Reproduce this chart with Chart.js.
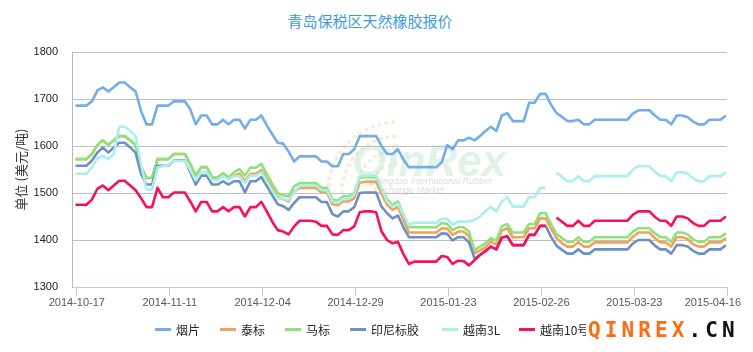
<!DOCTYPE html>
<html>
<head>
<meta charset="utf-8">
<script src="https://cdn.jsdelivr.net/npm/chart.js@4"></script>
<style>
  body { margin: 0; background: #fff; }
  #wrap { position: relative; width: 753px; height: 352px; overflow: hidden; }
  #wrap canvas { position: absolute; left: 0; top: 0; z-index: 2; }
  .title { position: absolute; left: 0; width: 740px; top: 10px; text-align: center;
           font: 15px "Noto Sans CJK SC"; color: #3b9bdc; }
  .wm { position: absolute; z-index: 1; }
  .legend { position: absolute; top: 321px; left: 0; z-index: 3; font: 12px "Noto Sans CJK SC"; color: #262626; }
  .legend span.item { position: absolute; white-space: nowrap; display: flex; align-items: center; }
  .legend i { display: inline-block; width: 16px; height: 3px; margin-right: 5px; }
  .brand { position: absolute; left: 586px; top: 317px; z-index: 4; background: #fff; padding-left: 2px; width: 170px;
           font: bold 21px "DejaVu Sans Mono"; letter-spacing: 4.1px; line-height: 26px; }
</style>
</head>
<body>
<div id="wrap">
  <div class="title">青岛保税区天然橡胶报价</div>
  <svg class="wm" style="left:0;top:0" width="753" height="352">
    <g fill="none" stroke="rgba(250,175,115,0.28)" stroke-linecap="round" stroke-dasharray="0 7" stroke-width="4">
      <path d="M 370 192 A 28 28 0 0 1 398 164" />
      <path d="M 356 192 A 42 42 0 0 1 398 150" />
      <path d="M 342 192 A 56 56 0 0 1 398 136" />
      <path d="M 328 192 A 70 70 0 0 1 398 122" />
    </g>
  </svg>
  <div class="wm" style="left:352px;top:136px;font:italic bold 44px 'Liberation Sans';color:rgba(150,215,170,0.30)">QinRex</div>
  <div class="wm" style="left:374px;top:177px;font:italic 9px 'Liberation Sans';color:rgba(150,150,150,0.35);line-height:9px">Qingdao International Rubber<br>Exchange Market</div>
  <canvas id="c" width="753" height="352"></canvas>
  <div class="legend" id="legend"></div>
  <div class="brand"><span style="color:#ff6a13">QINREX</span><span style="color:#111">.CN</span></div>
</div>
<script>
// tick labels on the x axis
const tickLabels = ['2014-10-17', '2014-11-11', '2014-12-04', '2014-12-29',
                    '2015-01-23', '2015-02-26', '2015-03-23', '2015-04-16'];

const seriesNames = ['烟片', '泰标', '马标', '印尼标胶', '越南3L', '越南10号'];
const seriesColors = ['#74aee8', '#f6a15a', '#8ee27a', '#6f8fc4', '#aaeeee', '#f7105e'];

// 烟片
const yanpian = [1686,1686,1686,1695,1718,1725,1716,1725,1735,1735,
  1725,1716,1674,1646,1646,1686,1686,1686,1695,1695,
  1695,1678,1646,1665,1665,1646,1646,1656,1646,1656,
  1656,1637,1656,1656,1665,1644,1625,1607,1605,1588,
  1567,1578,1578,1578,1578,1567,1567,1557,1557,1583,
  1583,1593,1621,1621,1621,1621,1600,1583,1583,1593,
  1571,1555,1555,1555,1555,1555,1555,1565,1602,1593,
  1612,1612,1618,1612,1621,1632,1641,1632,1665,1670,
  1653,1653,1653,1692,1692,1711,1711,1688,1670,1662,
  1653,1653,1656,1646,1646,1656,1656,1656,1656,1656,
  1656,1656,1669,1676,1676,1676,1665,1656,1656,1646,
  1665,1665,1661,1652,1646,1646,1656,1656,1656,1665];

// 泰标
const taibiao = [1572,1572,1572,1583,1602,1612,1602,1612,1621,1621,
  1612,1602,1555,1532,1532,1572,1572,1572,1583,1583,
  1583,1562,1537,1555,1555,1533,1533,1542,1533,1537,
  1541,1525,1541,1541,1549,1530,1510,1492,1487,1482,
  1503,1511,1511,1511,1511,1501,1501,1476,1474,1482,
  1482,1489,1522,1524,1524,1524,1498,1475,1464,1470,
  1443,1416,1416,1416,1416,1416,1416,1425,1424,1411,
  1418,1418,1408,1372,1378,1385,1396,1391,1420,1425,
  1406,1406,1406,1425,1425,1446,1446,1425,1404,1393,
  1386,1386,1395,1386,1386,1395,1395,1395,1395,1395,
  1395,1395,1407,1416,1416,1416,1404,1395,1395,1386,
  1406,1406,1402,1391,1386,1386,1395,1395,1395,1404];

// 马标
const mabiao = [1572,1572,1572,1583,1602,1612,1602,1612,1621,1621,
  1612,1602,1555,1532,1532,1572,1572,1572,1583,1583,
  1583,1562,1537,1555,1555,1533,1533,1542,1533,1544,
  1551,1537,1554,1554,1562,1540,1520,1500,1495,1493,
  1514,1521,1521,1521,1521,1511,1511,1486,1484,1493,
  1493,1500,1532,1534,1534,1534,1509,1487,1475,1482,
  1454,1427,1427,1427,1427,1427,1427,1436,1434,1421,
  1427,1427,1418,1379,1386,1393,1404,1399,1429,1434,
  1416,1416,1416,1434,1434,1457,1457,1434,1413,1404,
  1396,1396,1406,1396,1396,1406,1406,1406,1406,1406,
  1406,1406,1418,1425,1425,1425,1414,1406,1406,1396,
  1416,1416,1412,1401,1396,1396,1406,1406,1406,1414];

// 印尼标胶
const yinni = [1558,1558,1558,1569,1586,1597,1586,1597,1607,1607,
  1597,1586,1540,1518,1518,1558,1558,1558,1569,1569,
  1569,1545,1518,1537,1537,1518,1518,1525,1518,1525,
  1525,1501,1525,1525,1534,1515,1495,1476,1472,1464,
  1479,1491,1491,1491,1491,1481,1481,1455,1450,1461,
  1461,1470,1500,1501,1501,1501,1471,1457,1446,1452,
  1427,1406,1406,1406,1406,1406,1406,1414,1413,1399,
  1406,1406,1395,1361,1368,1375,1386,1380,1405,1408,
  1389,1389,1389,1411,1411,1430,1430,1407,1388,1379,
  1371,1371,1380,1371,1371,1380,1380,1380,1380,1380,
  1380,1380,1393,1400,1400,1400,1388,1380,1380,1371,
  1389,1389,1386,1377,1371,1371,1380,1380,1380,1389];

// 越南3L
const yuenan3L = [1541,1541,1541,1555,1574,1579,1572,1583,1641,1641,
  1632,1621,1560,1507,1507,1554,1557,1559,1568,1568,
  1568,1549,1527,1544,1544,1527,1527,1536,1529,1536,
  1536,1521,1537,1537,1544,1525,1505,1489,1487,1485,
  1500,1516,1516,1516,1516,1506,1506,1482,1479,1488,
  1488,1497,1536,1537,1537,1537,1509,1482,1471,1477,
  1454,1432,1437,1437,1437,1437,1437,1445,1445,1432,
  1439,1439,1439,1443,1450,1461,1470,1461,1482,1491,
  1471,1471,1471,1491,1491,1511,1511,null,1543,1534,
  1525,1525,1536,1525,1525,1536,1536,1536,1536,1536,
  1536,1536,1550,1557,1557,1557,1545,1536,1536,1525,
  1544,1544,1541,1531,1525,1525,1536,1536,1536,1544];

// 越南10号
const yuenan10 = [1475,1475,1475,1486,1509,1516,1506,1516,1526,1526,
  1516,1506,1489,1470,1470,1511,1491,1491,1501,1501,
  1501,1482,1461,1481,1481,1461,1461,1470,1461,1470,
  1470,1450,1470,1470,1481,1461,1439,1421,1418,1412,
  1429,1441,1441,1441,1439,1430,1430,1412,1411,1421,
  1421,1429,1459,1461,1461,1459,1418,1400,1393,1396,
  1370,1349,1354,1354,1354,1354,1354,1366,1364,1349,
  1356,1355,1346,1357,1368,1377,1386,1380,1405,1408,
  1389,1389,1389,1411,1411,1430,1430,null,1448,1439,
  1430,1430,1441,1430,1430,1441,1441,1441,1441,1441,
  1441,1441,1454,1461,1461,1461,1449,1441,1441,1430,
  1450,1450,1446,1436,1430,1430,1441,1441,1441,1450];

const allSeries = [yanpian, taibiao, mabiao, yinni, yuenan3L, yuenan10];

// legend (html)
const legendLeft = [155, 220, 285, 350, 442, 519];
const legendEl = document.getElementById('legend');
seriesNames.forEach(function (name, i) {
  const it = document.createElement('span');
  it.className = 'item';
  it.style.left = legendLeft[i] + 'px';
  it.innerHTML = '<i style="background:' + seriesColors[i] + '"></i>' + name;
  legendEl.appendChild(it);
});

Chart.defaults.font.family = '"Liberation Sans", "Noto Sans CJK SC"';

// x labels drawn here so the last one can be pulled inside the canvas, like excel does
const xLabelPlugin = {
  id: 'xLabels',
  afterDraw: function (chart) {
    const sc = chart.scales.x;
    const ctx = chart.ctx;
    ctx.save();
    ctx.font = '11px "Liberation Sans"';
    ctx.fillStyle = '#595959';
    ctx.textAlign = 'center';
    ctx.textBaseline = 'top';
    sc.ticks.forEach(function (t, k) {
      const w = ctx.measureText(tickLabels[k]).width;
      let px = sc.getPixelForValue(t.value);
      px = Math.min(px, 741 - w / 2);
      ctx.fillText(tickLabels[k], px, sc.top + 10);
    });
    ctx.restore();
  }
};

const datasets = allSeries.map(function (arr, i) {
  return {
    label: seriesNames[i],
    data: arr,
    borderColor: seriesColors[i],
    backgroundColor: seriesColors[i],
    borderWidth: 2.6,
    pointRadius: 0,
    tension: 0,
    spanGaps: false,
    borderJoinStyle: 'round',
    order: allSeries.length - i
  };
});

new Chart(document.getElementById('c'), {
  type: 'line',
  data: {
    labels: yanpian.map(function (_, i) { return i; }),
    datasets: datasets
  },
  options: {
    responsive: false,
    animation: false,
    devicePixelRatio: 1,
    layout: { padding: { top: 52, right: 26, bottom: 45, left: 0 } },
    plugins: {
      legend: { display: false },
      tooltip: { enabled: false },
      title: { display: false }
    },
    scales: {
      x: {
        type: 'linear',
        min: -0.64,
        max: 119.2,
        afterBuildTicks: function (axis) {
          axis.ticks = tickLabels.map(function (_, k) {
            return { value: k === 7 ? 119.2 : 0.24 + 17 * k };
          });
        },
        afterFit: function (s) { s.height = 20; },
        grid: { drawOnChartArea: false, drawTicks: true, tickLength: 9, color: '#c3cbd6' },
        border: { color: '#c3cbd6' },
        ticks: { display: false, autoSkip: false, maxRotation: 0 }
      },
      y: {
        min: 1300,
        max: 1800,
        afterFit: function (s) { s.width = 72; },
        grid: { color: '#c0c0c0', drawTicks: false },
        border: { color: '#b8b8b8' },
        ticks: {
          stepSize: 100, padding: 14, color: '#222', font: { size: 11 },
          callback: function (v) { return String(v); }
        },
        title: {
          display: true,
          text: '单位 (美元/吨)',
          color: '#333',
          font: { size: 13, family: '"Noto Sans CJK SC"' },
          padding: { top: 13, bottom: 0 }
        }
      }
    }
  },
  plugins: [xLabelPlugin]
});
</script>
</body>
</html>
